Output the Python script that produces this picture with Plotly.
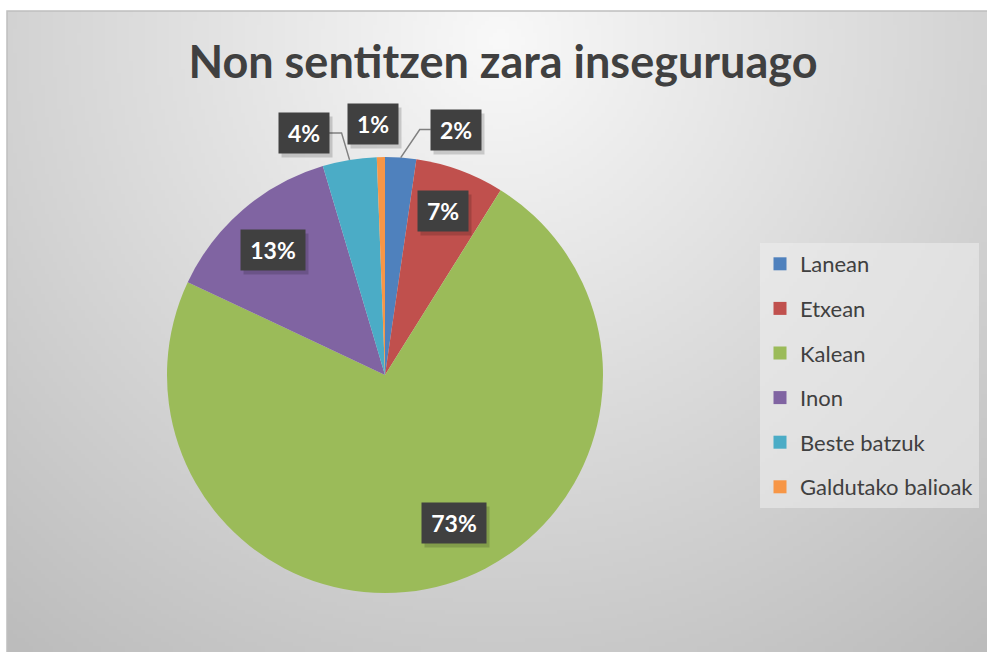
import math, zlib, struct, base64
import plotly.graph_objects as go

# ---- data ----
categories = ["Lanean", "Etxean", "Kalean", "Inon", "Beste batzuk", "Galdutako balioak"]
values = [2.3, 6.6, 73.1, 13.4, 4.0, 0.6]
colors = ["#4f81bd", "#c0504d", "#9bbb59", "#8064a2", "#4bacc6", "#f79646"]
title_text = "Non sentitzen zara inseguruago"

# ---- geometry (pixels) ----
W, H = 987, 652
ML, MT = 7, 11
PW, PH = W - ML, H - MT
CX, CY, R = 385, 375, 218

def px_to_paper(x, y):
    return (x - ML) / PW, (H - y) / PH

# ---- gradient background PNG ----
def make_png(w, h):
    rows = []
    for j in range(h):
        row = bytearray([0])
        for i in range(w):
            X = ML + (i + 0.5) * PW / w
            Y = MT + (j + 0.5) * PH / h
            d = math.hypot(X - 500, (Y - 40) * 1.0)
            v = int(max(188, min(250, 249 - 0.078 * d)))
            row.append(v)
        rows.append(bytes(row))
    raw = b"".join(rows)
    def chunk(t, data):
        c = struct.pack(">I", len(data)) + t + data
        return c + struct.pack(">I", zlib.crc32(t + data) & 0xffffffff)
    png = b"\x89PNG\r\n\x1a\n"
    png += chunk(b"IHDR", struct.pack(">IIBBBBB", w, h, 8, 0, 0, 0, 0))
    png += chunk(b"IDAT", zlib.compress(raw, 9))
    png += chunk(b"IEND", b"")
    return "data:image/png;base64," + base64.b64encode(png).decode()

bg = make_png(245, 160)

x0, y0 = px_to_paper(CX - R, CY + R)
x1, y1 = px_to_paper(CX + R, CY - R)

fig = go.Figure()
fig.add_trace(go.Pie(
    labels=categories, values=values, sort=False, direction="clockwise",
    rotation=0, marker=dict(colors=colors, line=dict(width=0)),
    textinfo="none", hoverinfo="label+percent", showlegend=False,
    domain=dict(x=[x0, x1], y=[y0, y1]),
))

# legend entries
for i, (c, col) in enumerate(zip(categories, colors)):
    fig.add_trace(go.Scatter(
        x=[None], y=[None], mode="markers", name=c, legendgroup=str(i),
        marker=dict(symbol="square", size=13, color=col), showlegend=True,
    ))

# ---- labels ----
total = sum(values)
label_texts = [f"{round(v / total * 100)}%" for v in values]
# pixel offsets of the small outside labels from the slice edge: (dx, dy, leader side)
outside_offsets = {0: (55, -28, "left"), 4: (-46, -27, "right"), 5: (-8, -33, None)}
# small pixel nudges for inside labels (placement style)
inside_nudge = {1: (0, -6), 2: (22, -13), 3: (-3, 2)}

annotations = []
shapes = []
LBL_FONT = dict(color="white", size=23, family="Lato", weight="bold")
cum = 0
for i, v in enumerate(values):
    mid = (cum + v / 2) / total * 2 * math.pi
    cum += v
    txt = label_texts[i]
    bw = 48 if len(txt) > 2 else 34
    side = None
    if i in outside_offsets:
        ox, oy, side = outside_offsets[i]
        ex = CX + R * math.sin(mid)
        ey = CY - R * math.cos(mid)
        lx, ly = ex + ox, ey + oy
    else:
        rr = 0.77 * R
        nx, ny = inside_nudge.get(i, (0, 0))
        lx = CX + rr * math.sin(mid) + nx
        ly = CY - rr * math.cos(mid) + ny
    px, py = px_to_paper(lx, ly)
    if side is not None:
        half = bw / 2 + 8
        bx = lx - half if side == "left" else lx + half
        kx = bx - 11 if side == "left" else bx + 13
        pts = [(ex, ey), (kx, ly), (bx, ly)]
        path = ""
        for k, (a, b) in enumerate(pts):
            qa, qb = px_to_paper(a, b)
            path += ("M" if k == 0 else "L") + f"{qa},{qb} "
        shapes.append(dict(type="path", xref="paper", yref="paper", path=path.strip(),
                           line=dict(color="#808080", width=1.5), layer="above"))
    common = dict(x=px, y=py, xref="paper", yref="paper", showarrow=False,
                  xanchor="center", yanchor="middle", borderpad=8, width=bw, height=24)
    # drop shadow (no text)
    annotations.append(dict(common, text="\u00a0", xshift=3, yshift=-4,
                            bgcolor="rgba(0,0,0,0.16)", font=dict(LBL_FONT)))
    annotations.append(dict(common, text=txt, bgcolor="#404040", font=LBL_FONT))

lgx, lgy = px_to_paper(760, 243)

shapes.insert(0, dict(type="rect", xref="paper", yref="paper", x0=0, y0=-0.05, x1=1.05, y1=1,
                      line=dict(color="#bfbfbf", width=1.5), fillcolor="rgba(0,0,0,0)", layer="above"))

fig.update_layout(
    width=W, height=H,
    margin=dict(l=ML, r=0, t=MT, b=0),
    paper_bgcolor="white", plot_bgcolor="rgba(0,0,0,0)",
    xaxis=dict(visible=False), yaxis=dict(visible=False),
    title=dict(text=title_text, x=(503 - ML) / PW, xref="paper",
               y=1 - 62 / H, yref="container", xanchor="center", yanchor="middle",
               font=dict(family="Lato", size=45, color="#404040", weight="bold")),
    legend=dict(x=lgx, y=lgy, xanchor="left", yanchor="top",
                bgcolor="rgba(238,238,238,0.55)", tracegroupgap=13,
                font=dict(family="Lato", size=22, color="#404040"),
                itemclick=False, itemdoubleclick=False),
    images=[dict(source=bg, xref="paper", yref="paper", x=0, y=1, sizex=1.0, sizey=1.0,
                 xanchor="left", yanchor="top", sizing="stretch", layer="below")],
    shapes=shapes,
    annotations=annotations,
    showlegend=True,
)

fig.write_html("out.html", config={"displayModeBar": False},
               post_script="document.body.style.margin='0';document.body.style.overflow='hidden';")
